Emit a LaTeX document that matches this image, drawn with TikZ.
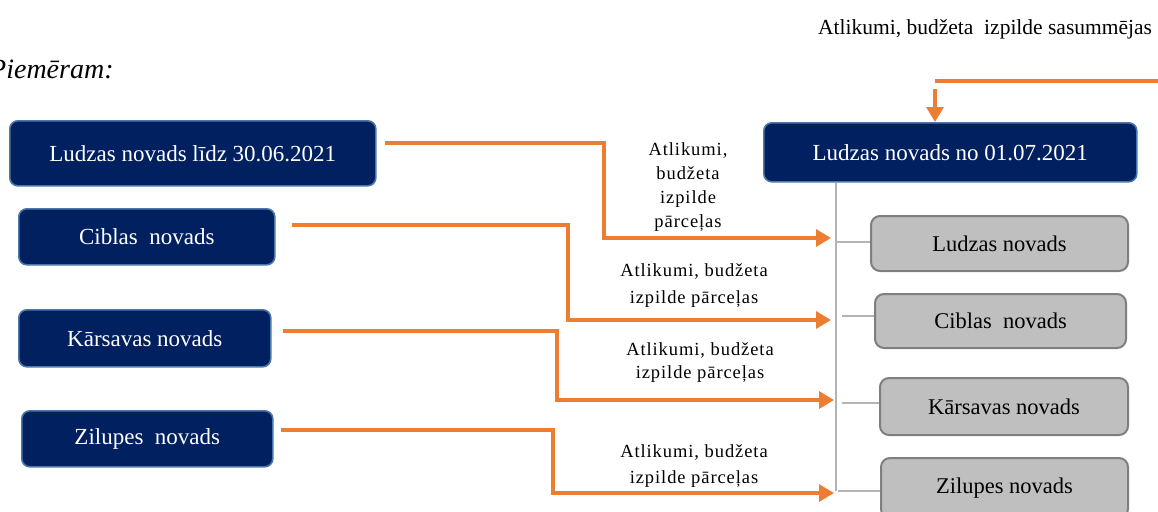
\documentclass[tikz,border=0pt]{standalone}
\usepackage{fontspec}
\setmainfont{Liberation Serif}
\newfontfamily\lblfont{Liberation Serif}[LetterSpace=5]
\usetikzlibrary{arrows.meta}
\definecolor{navy}{HTML}{002060}
\definecolor{navyedge}{HTML}{4A78A8}
\definecolor{grayfill}{HTML}{BFBFBF}
\definecolor{grayedge}{HTML}{7F7F7F}
\definecolor{conn}{HTML}{ED7D31}
\definecolor{trunk}{HTML}{B4B4B4}
\tikzset{
  darkbox/.style={draw=navyedge, line width=1.6pt, fill=navy, rounded corners=8pt,
    text=white, font=\fontsize{23}{27}\selectfont, inner sep=0pt, anchor=north west},
  graybox/.style={draw=grayedge, line width=2pt, fill=grayfill, rounded corners=9pt,
    text=black, font=\fontsize{22.5}{26}\selectfont, inner sep=0pt, anchor=north west},
  flow/.style={draw=conn, line width=3.2pt, -{Triangle[length=15pt,width=17pt]}},
  flowline/.style={draw=conn, line width=3.2pt},
  branch/.style={draw=trunk, line width=1.8pt},
  lbl/.style={font=\lblfont\fontsize{18.5}{24}\selectfont, align=center, inner sep=0pt}
}
\begin{document}
\begin{tikzpicture}[x=1pt,y=-1pt]
\useasboundingbox (0,0) rectangle (1158,511);
% titles
\node[font=\fontsize{28}{30}\selectfont\itshape, anchor=base west, inner sep=0pt] (title) at (-11,78) {Piemēram:};
\node[font=\fontsize{21.5}{25}\selectfont, anchor=base west, inner sep=0pt] (sum) at (818,35) {Atlikumi, budžeta\ \ izpilde sasummējas};
% left boxes
\node[darkbox, minimum width=366pt, minimum height=65pt] (L1) at (9,120) {Ludzas novads līdz 30.06.2021};
\node[darkbox, minimum width=256pt, minimum height=56pt] (C1) at (18,208) {Ciblas\ \ novads};
\node[darkbox, minimum width=252pt, minimum height=57pt] (K1) at (18,309) {Kārsavas novads};
\node[darkbox, minimum width=251pt, minimum height=56pt] (Z1) at (21,410) {Zilupes\ \ novads};
% top right box
\node[darkbox, minimum width=373pt, minimum height=59pt] (R) at (763,122) {Ludzas novads no 01.07.2021};
% gray boxes
\node[graybox, minimum width=257pt, minimum height=55pt] (L2) at (870,215) {Ludzas novads};
\node[graybox, minimum width=251pt, minimum height=54pt] (C2) at (874,293) {Ciblas\ \ novads};
\node[graybox, minimum width=248pt, minimum height=57pt] (K2) at (879,377) {Kārsavas novads};
\node[graybox, minimum width=247pt, minimum height=60pt] (Z2) at (880,457) {Zilupes novads};
% coordinates
\coordinate (top0) at (1158,81);
\coordinate (topc) at (935,81);
\coordinate (a1) at (831,238);
\coordinate (a2) at (831,320);
\coordinate (a3) at (834,400);
\coordinate (a4) at (834,493);
% orange connectors
\draw[flowline] (top0) -- (topc);
\draw[flow] (935,89) -- (R.north west -| topc);
\draw[flow] ([xshift=8pt]L1.east |- 0,143) -- (604,143) |- (a1);
\draw[flow] ([xshift=16pt]C1.east |- 0,225) -- (568,225) |- (a2);
\draw[flow] ([xshift=11pt]K1.east |- 0,331) -- (557,331) |- (a3);
\draw[flow] ([xshift=7pt]Z1.east |- 0,430) -- (553,430) |- (a4);
% gray trunk
\coordinate (tb) at (836,491);
\draw[branch] (R.south -| tb) -- (tb);
\draw[branch] (836,242) -- (L2.west |- 0,242);
\draw[branch] (842,316) -- (C2.west |- 0,316);
\draw[branch] (842,403) -- (K2.west |- 0,403);
\draw[branch] (838,491) -- (Z2.west |- 0,491);
% labels (anchor base = baseline of last line)
\node[lbl, anchor=base] (t1) at (688,227) {Atlikumi,\\budžeta\\izpilde\\pārceļas};
\node[lbl, anchor=base, font=\lblfont\fontsize{18.5}{27}\selectfont] (t2) at (694,303) {Atlikumi, budžeta\\izpilde pārceļas};
\node[lbl, anchor=base, font=\lblfont\fontsize{18.5}{23}\selectfont] (t3) at (700,378) {Atlikumi, budžeta\\izpilde pārceļas};
\node[lbl, anchor=base, font=\lblfont\fontsize{18.5}{26}\selectfont] (t4) at (694,483) {Atlikumi, budžeta\\izpilde pārceļas};
\end{tikzpicture}
\end{document}
